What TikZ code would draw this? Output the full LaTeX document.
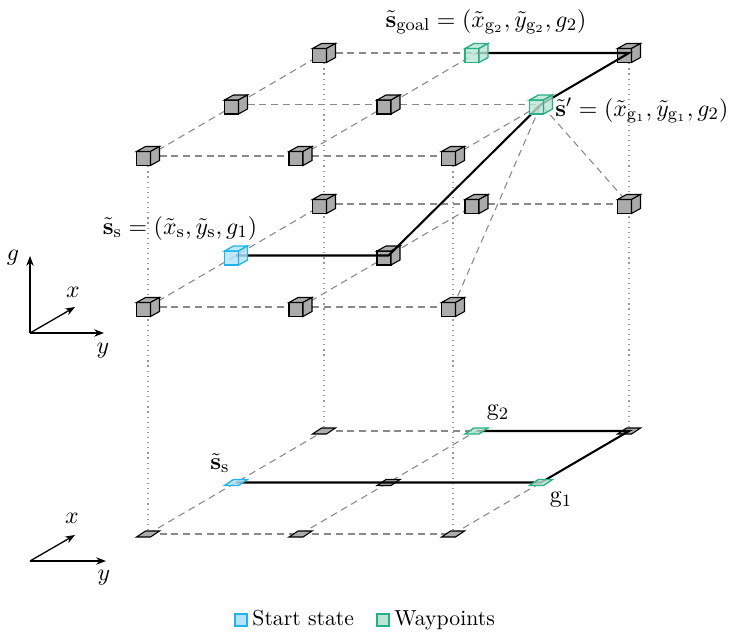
\documentclass[tikz,border=0pt]{standalone}
\usepackage{amsmath}
\usetikzlibrary{arrows.meta}
\definecolor{cubegray}{HTML}{ABABAB}
\definecolor{startfill}{HTML}{B3E3FA}
\definecolor{startdraw}{HTML}{1EB4EE}
\definecolor{wayfill}{HTML}{BCE3D4}
\definecolor{waydraw}{HTML}{27B085}
\definecolor{gridgray}{HTML}{8A8A8A}
\definecolor{dotgray}{HTML}{999999}
\begin{document}
\begin{tikzpicture}[x=0.46pt,y=-0.46pt,
  gridline/.style={draw=gridgray,line width=0.5pt,dash pattern=on 3.2pt off 2.2pt},
  pillar/.style={draw=dotgray,line width=0.55pt,dash pattern=on 0.55pt off 1.8pt},
  pathline/.style={draw=black,line width=0.95pt},
  axisarrow/.style={draw=black,line width=0.6pt,-{Stealth[length=4.5pt,width=3.4pt]}},
  graybox/.style={draw=black,fill=cubegray,line width=0.5pt},
  startbox/.style={draw=startdraw,fill=startfill,fill opacity=0.8,line width=0.6pt},
  waybox/.style={draw=waydraw,fill=wayfill,fill opacity=0.8,line width=0.6pt},
  lbl/.style={inner sep=0pt,font=\fontsize{11}{13}\selectfont},
  legbox/.style={minimum size=5.5pt,inner sep=0pt,line width=0.6pt},
  pics/cube/.style={code={
    \draw[pic actions] (-11.5,9.5) rectangle (2.5,-4.5);
    \draw[pic actions] (-11.5,-4.5) -- (-2.5,-9.5) -- (11.5,-9.5) -- (2.5,-4.5) -- cycle;
    \draw[pic actions] (2.5,9.5) -- (2.5,-4.5) -- (11.5,-9.5) -- (11.5,4.5) -- cycle;
  }},
  pics/tile/.style={code={
    \draw[pic actions] (-11.5,3) -- (2.5,3) -- (11.5,-3) -- (-2.5,-3) -- cycle;
  }}
]
\useasboundingbox (0,0) rectangle (736,632);

% grid coordinates: i = x index (0 front .. 2 back), j = y index (0 left .. 2 right)
\foreach \i in {0,1,2}{
  \foreach \j in {0,1,2}{
    \coordinate (t\i\j) at ({148+152.5*\j+88*\i},{156-51.5*\i});
    \coordinate (m\i\j) at ({148+152.5*\j+88*\i},{307-51.5*\i});
    \coordinate (b\i\j) at ({148+152.5*\j+88*\i},{534-51.5*\i});
  }
}

% vertical dotted pillars
\draw[pillar] (t00) -- (b00);
\draw[pillar] (t02) -- (b02);
\draw[pillar] (t20) -- (b20);
\draw[pillar] (t22) -- (b22);

% dashed grid: top layer and bottom layer
\foreach \k in {0,1,2}{
  \draw[gridline] (t\k0) -- (t\k1) -- (t\k2);
  \draw[gridline] (t0\k) -- (t1\k) -- (t2\k);
  \draw[gridline] (b\k0) -- (b\k1) -- (b\k2);
  \draw[gridline] (b0\k) -- (b1\k) -- (b2\k);
}
% dashed grid: middle layer
\draw[gridline] (m00) -- (m01) -- (m02);
\draw[gridline] (m10) -- (m11);
\draw[gridline] (m20) -- (m21) -- (m22);
\draw[gridline] (m00) -- (m10) -- (m20);
\draw[gridline] (m01) -- (m11) -- (m21);
\draw[gridline] (m02) -- (t12) -- (m22);

% gray cubes
\foreach \c in {t00,t01,t02,t10,t11,t20,t22,m00,m01,m02,m11,m20,m21,m22}{
  \pic[graybox] at (\c) {cube};
}
% gray tiles
\foreach \c in {b00,b01,b02,b11,b20,b22}{
  \pic[graybox] at (\c) {tile};
}

% solution paths
\draw[pathline] (m10) -- (m11) -- (t12) -- (t22) -- (t21);
\draw[pathline] (b10) -- (b11) -- (b12) -- (b22) -- (b21);

% coloured cubes and tiles
\pic[startbox] at (m10) {cube};
\pic[waybox] at (t12) {cube};
\pic[waybox] at (t21) {cube};
\pic[startbox] at (b10) {tile};
\pic[waybox] at (b12) {tile};
\pic[waybox] at (b21) {tile};

% labels
\node[lbl,anchor=base] (lgoal) at (486,27)
  {$\tilde{\mathbf{s}}_{\mathrm{goal}} = (\tilde{x}_{\mathrm{g}_2}, \tilde{y}_{\mathrm{g}_2}, g_2)$};
\node[lbl,anchor=base west] (lsp) at (555,116)
  {$\tilde{\mathbf{s}}' = (\tilde{x}_{\mathrm{g}_1}, \tilde{y}_{\mathrm{g}_1}, g_2)$};
\node[lbl,anchor=base] (lss) at (180,234)
  {$\tilde{\mathbf{s}}_{\mathrm{s}} = (\tilde{x}_{\mathrm{s}}, \tilde{y}_{\mathrm{s}}, g_1)$};
\node[lbl] (lbs) at (220,463) {$\tilde{\mathbf{s}}_{\mathrm{s}}$};
\node[lbl] (lbg2) at (498,413) {$\mathrm{g}_2$};
\node[lbl] (lbg1) at (561,500) {$\mathrm{g}_1$};

% upper axes
\coordinate (ao) at (30,333);
\coordinate (ag) at (30,256);
\coordinate (ax) at (75,307);
\coordinate (ay) at (104,333);
\draw[axisarrow] (ao) -- (ag);
\draw[axisarrow] (ao) -- (ax);
\draw[axisarrow] (ao) -- (ay);
\node[lbl] (agl) at (13,258) {$g$};
\node[lbl] (axl) at (73,292) {$x$};
\node[lbl] (ayl) at (103,351) {$y$};

% lower axes
\coordinate (bo) at (30,561);
\coordinate (bx) at (75,535);
\coordinate (by) at (106,561);
\draw[axisarrow] (bo) -- (bx);
\draw[axisarrow] (bo) -- (by);
\node[lbl] (bxl) at (72,518) {$x$};
\node[lbl] (byl) at (104,578) {$y$};

% legend
\node[legbox,draw=startdraw,fill=startfill] (legs) at (241,620) {};
\node[anchor=base west,inner sep=0pt] (legst) at (252,625) {Start state};
\node[legbox,draw=waydraw,fill=wayfill] (legw) at (383,620) {};
\node[anchor=base west,inner sep=0pt] (legwt) at (394,625) {Waypoints};
\end{tikzpicture}
\end{document}
